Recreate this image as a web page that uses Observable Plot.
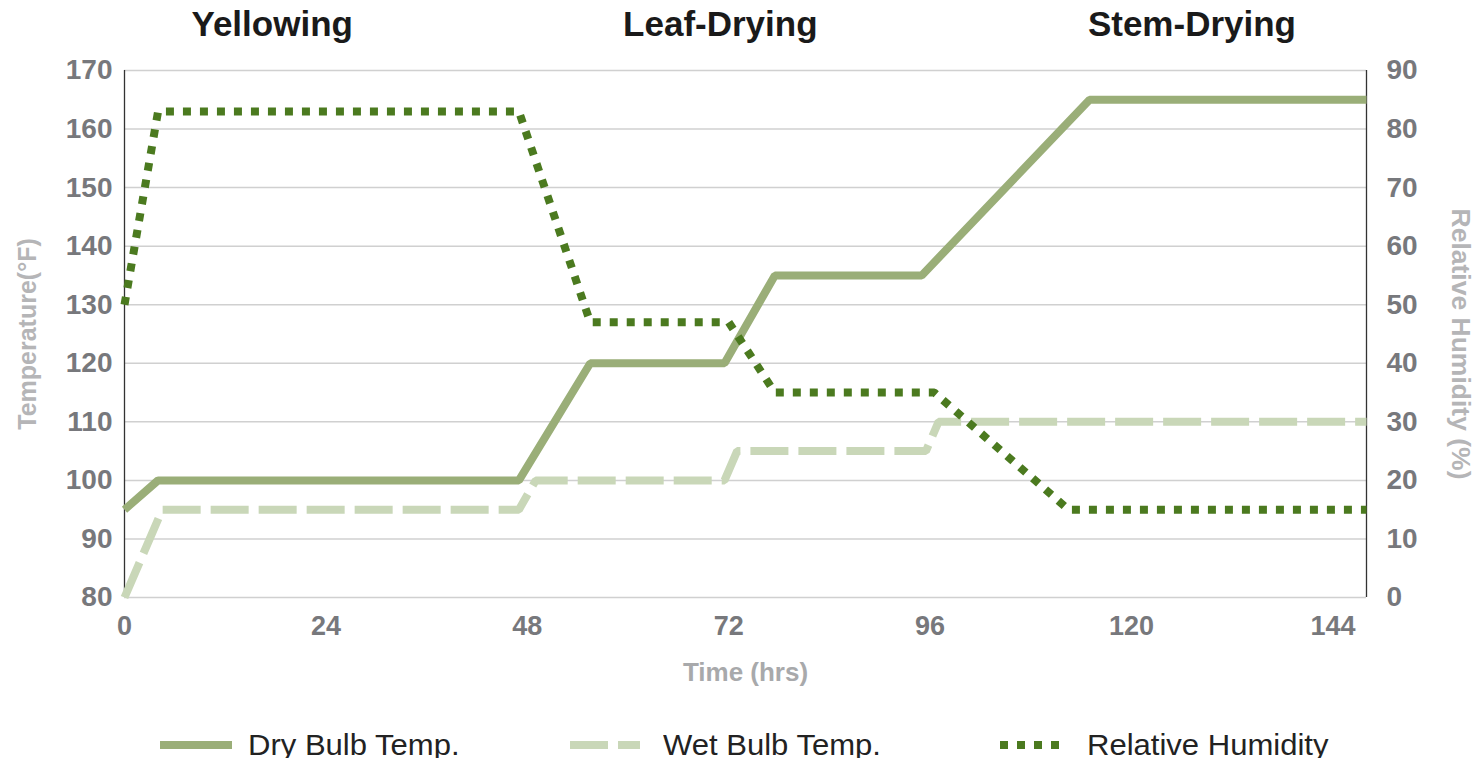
<!DOCTYPE html>
<html>
<head>
<meta charset="utf-8">
<script src="https://cdn.jsdelivr.net/npm/d3@7"></script>
<script src="https://cdn.jsdelivr.net/npm/@observablehq/plot@0.6"></script>
<style>
  html, body { margin: 0; padding: 0; background: #fff; }
  body { width: 1478px; height: 758px; overflow: hidden; font-family: "Liberation Sans", Arial, sans-serif; }
  #legend { position: relative; height: 58px; }
  .item { position: absolute; top: 30px; display: flex; align-items: center; height: 30px; }
  .item span { font-size: 29px; color: #222; font-family: "Liberation Sans Narrow", "Liberation Sans", sans-serif; transform: scaleX(1.07); transform-origin: left center; white-space: nowrap; }
</style>
</head>
<body>
<div id="chart"></div>
<div id="legend"></div>
<script>
// ---- data ----
const dryHours = [0, 4, 47, 55.5, 71.5, 77.5, 95, 115, 148];
const dryTemp  = [95, 100, 100, 120, 120, 135, 135, 165, 165];
const wetHours = [0, 4.5, 47, 49, 71.5, 73, 95.5, 97, 148];
const wetTemp  = [80, 95, 95, 100, 100, 105, 105, 110, 110];
const rhHours  = [0, 4, 47, 55.5, 72, 77.5, 96.5, 112.5, 148];
const rhValues = [50, 83, 83, 47, 47, 35, 35, 15, 15];
const timeTicks = [0, 24, 48, 72, 96, 120, 144];
const tempTicks = [80, 90, 100, 110, 120, 130, 140, 150, 160, 170];
const rhTicks   = [0, 10, 20, 30, 40, 50, 60, 70, 80, 90];
const phaseNames = ["Yellowing", "Leaf-Drying", "Stem-Drying"];
const phaseHours = [17.6, 71, 127.2];
const seriesNames = ["Dry Bulb Temp.", "Wet Bulb Temp.", "Relative Humidity"];

// RH axis (0–90) shares the temperature frame (80–170)
const rhOffset = 80;
const timeMax = 148;

const dry = dryHours.map((h, i) => ({h, v: dryTemp[i]}));
const wet = wetHours.map((h, i) => ({h, v: wetTemp[i]}));
const rh  = rhHours.map((h, i) => ({h, v: rhValues[i] + rhOffset}));
const phases = phaseNames.map((name, i) => ({name, h: phaseHours[i]}));

const colors = {dry: "#9aae78", wet: "#c9d7b8", rh: "#4b7a1f"};
const styles = [
  {color: colors.dry, dash: null, sample: 72, left: 160, gap: 16},
  {color: colors.wet, dash: "38,10", sample: 70, left: 570, gap: 23},
  {color: colors.rh, dash: "8,9", sample: 65, left: 1000, gap: 22}
];

const tickColor = "#77787c";

const plot = Plot.plot({
  width: 1478,
  height: 700,
  marginLeft: 124,
  marginRight: 112,
  marginTop: 70,
  marginBottom: 103,
  style: {fontFamily: "Liberation Sans, Arial, sans-serif", fontSize: "26px", background: "#fff"},
  x: {domain: [0, timeMax]},
  y: {domain: [80, 170]},
  marks: [
    Plot.gridY(tempTicks, {stroke: "#d0d0d0", strokeOpacity: 1, strokeWidth: 1.5}),
    Plot.ruleX([0, timeMax], {y1: 80, y2: 170, stroke: "#333", strokeWidth: 1.3}),
    Plot.axisX(timeTicks, {tickSize: 0, tickPadding: 18, label: null, fill: tickColor, fontWeight: "bold", fontSize: 27}),
    Plot.axisY(tempTicks, {anchor: "left", tickSize: 0, tickPadding: 12, label: null, fill: tickColor, fontWeight: "bold", fontSize: 28}),
    Plot.axisY(tempTicks, {anchor: "right", tickSize: 0, tickPadding: 20, label: null, fill: tickColor, fontWeight: "bold", fontSize: 28,
      tickFormat: d => String(d - rhOffset)}),
    Plot.line(dry, {x: "h", y: "v", stroke: styles[0].color, strokeWidth: 8, strokeLinejoin: "miter", strokeLinecap: "butt"}),
    Plot.line(wet, {x: "h", y: "v", stroke: styles[1].color, strokeWidth: 8, strokeDasharray: styles[1].dash, strokeLinejoin: "miter", strokeLinecap: "butt"}),
    Plot.line(rh, {x: "h", y: "v", stroke: styles[2].color, strokeWidth: 8, strokeDasharray: styles[2].dash, strokeLinejoin: "miter", strokeLinecap: "butt"}),
    Plot.text(phases, {x: "h", text: "name", frameAnchor: "top", lineAnchor: "middle", dy: -46, fontSize: 35, fontWeight: "bold", fill: "#1a1a1a"}),
    Plot.text(["Time (hrs)"], {frameAnchor: "bottom", lineAnchor: "middle", dy: 75, fontSize: 26, fontWeight: "bold", fill: "#a8a9ab"}),
    Plot.text(["Temperature(°F)"], {frameAnchor: "left", textAnchor: "middle", lineAnchor: "middle", dx: -97, rotate: -90, fontSize: 25, fontWeight: "bold", fill: "#b5b5b7"}),
    Plot.text(["Relative Humidity (%)"], {frameAnchor: "right", textAnchor: "middle", lineAnchor: "middle", dx: 94, dy: 10, rotate: 90, fontSize: 26.5, fontWeight: "bold", fill: "#b5b5b7"})
  ]
});
document.getElementById("chart").appendChild(plot);

// legend
const legend = d3.select("#legend");
seriesNames.forEach((name, i) => {
  const s = styles[i];
  const item = legend.append("div").attr("class", "item").style("left", s.left + "px");
  const svg = item.append("svg").attr("width", s.sample).attr("height", 12);
  svg.append("line").attr("x1", 0).attr("x2", s.sample).attr("y1", 6).attr("y2", 6)
    .attr("stroke", s.color).attr("stroke-width", 8)
    .attr("stroke-dasharray", s.dash);
  item.append("span").style("margin-left", s.gap + "px").text(name);
});
</script>
</body>
</html>
